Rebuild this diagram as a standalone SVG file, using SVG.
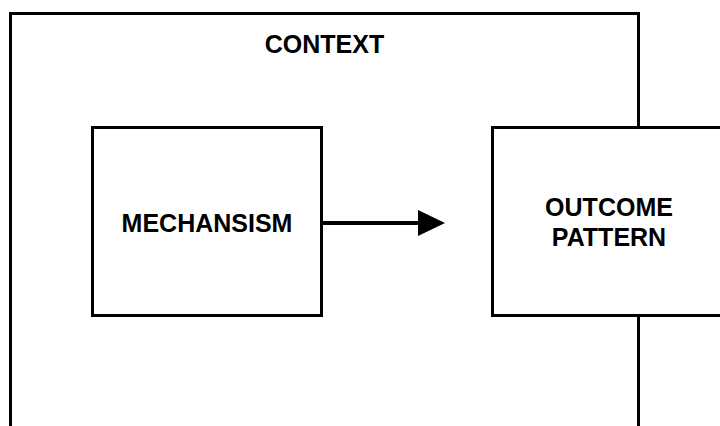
<svg xmlns="http://www.w3.org/2000/svg" width="720" height="426" viewBox="0 0 720 426">
  <style>
    .box { fill: #ffffff; stroke: #000000; stroke-width: 3; }
    .lbl { font-family: "Liberation Sans", Arial, Helvetica, sans-serif; font-weight: bold; font-size: 25px; fill: #000000; text-anchor: middle; }
    .conn { stroke: #000000; stroke-width: 4; fill: none; }
  </style>
  <defs>
    <marker id="arrow" markerUnits="userSpaceOnUse" markerWidth="28" markerHeight="28" refX="2" refY="13" orient="auto">
      <polygon points="0,0 27,13 0,26" fill="#000000"/>
    </marker>
  </defs>
  <rect width="720" height="426" fill="#ffffff"/>
  <g id="context">
    <rect class="box" x="10.5" y="13.5" width="628" height="500"/>
    <text class="lbl" x="324.5" y="53">CONTEXT</text>
  </g>
  <g id="mechanism">
    <rect class="box" x="92.5" y="127.5" width="229" height="188"/>
    <text class="lbl" x="207" y="232">MECHANSISM</text>
  </g>
  <g id="outcome">
    <rect class="box" x="492.5" y="127.5" width="233" height="188"/>
    <text class="lbl" x="609" y="216">OUTCOME</text>
    <text class="lbl" x="609" y="246">PATTERN</text>
  </g>
  <g id="connectors">
    <line class="conn" x1="323" y1="223" x2="420" y2="223" marker-end="url(#arrow)"/>
  </g>
</svg>
